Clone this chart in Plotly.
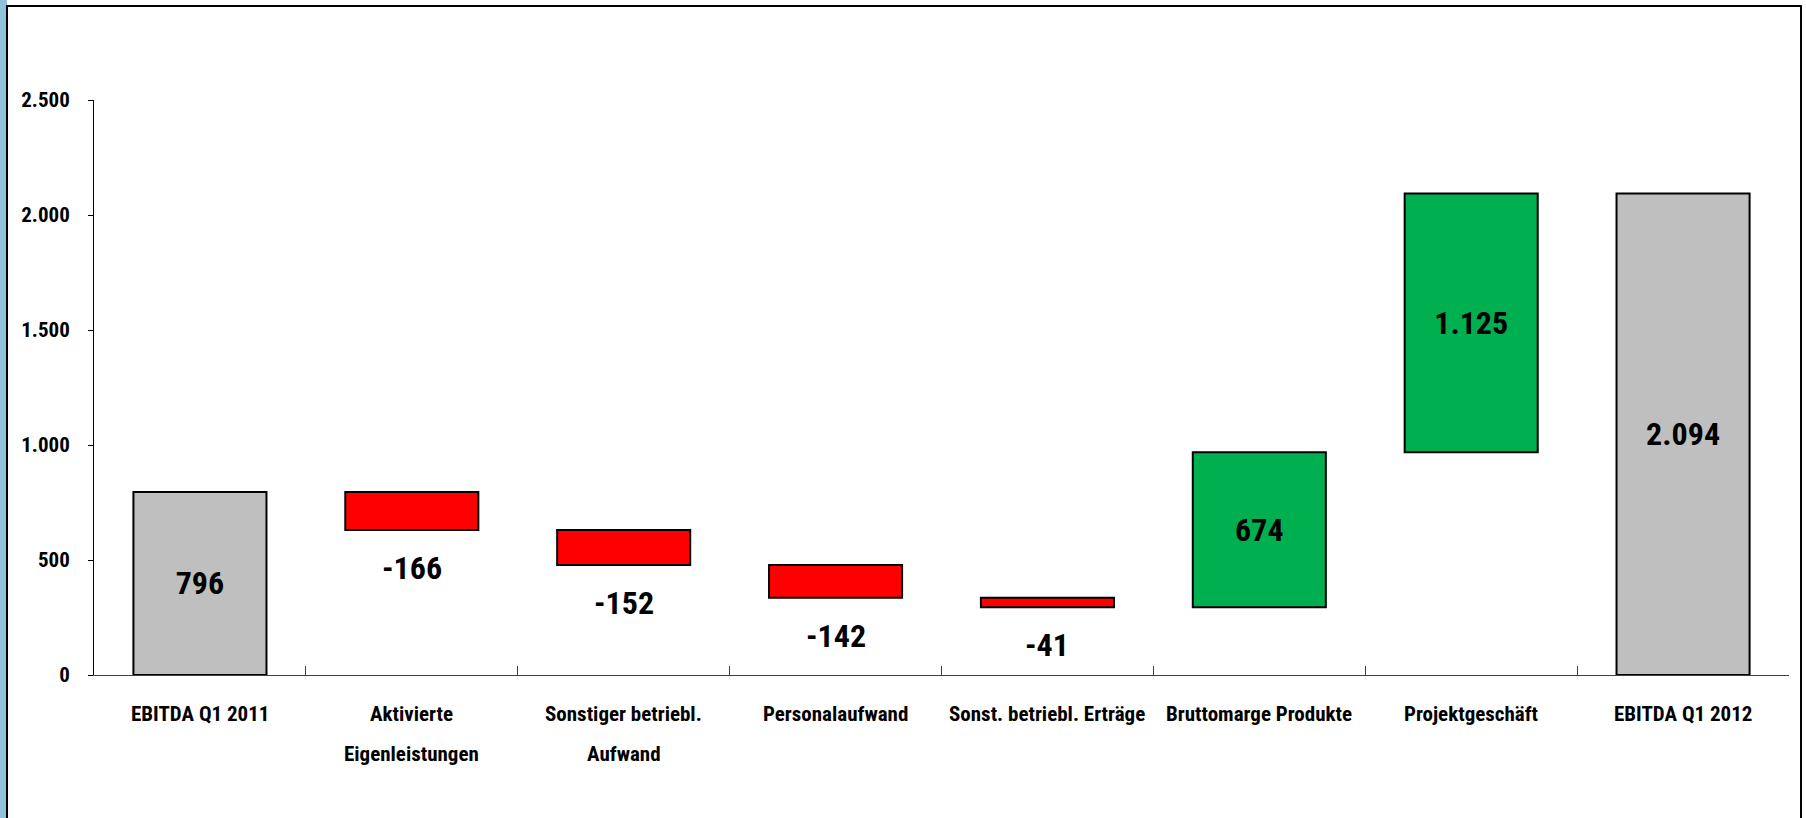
import plotly.graph_objects as go

# ---- data ----
categories = [
    "EBITDA Q1 2011",
    "Aktivierte<br>Eigenleistungen",
    "Sonstiger betriebl.<br>Aufwand",
    "Personalaufwand",
    "Sonst. betriebl. Erträge",
    "Bruttomarge Produkte",
    "Projektgeschäft",
    "EBITDA Q1 2012",
]
values = [796, -166, -152, -142, -41, 674, 1125, 2094]
measures = ["absolute", "relative", "relative", "relative", "relative", "relative", "relative", "total"]
y_ticks = [0, 500, 1000, 1500, 2000, 2500]

# ---- styles ----
FONT = "Liberation Sans Narrow, Roboto Condensed, Arial Narrow, Liberation Sans, sans-serif"
W, H = 1806, 818
L, R, T, B = 94, 17, 100, 143
PW, PH = W - L - R, H - T - B


def de(v):
    return f"{v:,}".replace(",", ".")


def px_x(px):
    return (px - L) / PW


def px_y(py):
    return (H - B - py) / PH


texts = [de(v) if (m != "relative" or v >= 0) else "" for v, m in zip(values, measures)]

fig = go.Figure(
    go.Waterfall(
        x=categories,
        y=values,
        measure=measures,
        text=texts,
        textposition="inside",
        insidetextanchor="middle",
        constraintext="none",
        textfont=dict(family=FONT, size=32, color="black", weight="bold"),
        increasing=dict(marker=dict(color="#00B050", line=dict(color="black", width=2))),
        decreasing=dict(marker=dict(color="#FF0000", line=dict(color="black", width=2))),
        totals=dict(marker=dict(color="#BFBFBF", line=dict(color="black", width=2))),
        connector=dict(visible=False),
        hoverinfo="skip",
    )
)

annotations = []
# labels below negative bars
running = 0
for c, v, m in zip(categories, values, measures):
    if m == "absolute":
        running = v
    elif m == "relative":
        running += v
        if v < 0:
            annotations.append(dict(
                x=c, y=running, xref="x", yref="y", text=de(v), showarrow=False,
                yanchor="middle", yshift=-38,
                font=dict(family=FONT, size=32, color="black", weight="bold"),
            ))

# category labels (multi-line, wider line spacing)
for c in categories:
    for i, line in enumerate(c.split("<br>")):
        annotations.append(dict(
            x=c, y=0, xref="x", yref="paper", text=line, showarrow=False,
            yanchor="middle", yshift=-39 - i * 40,
            font=dict(family=FONT, size=21, color="black", weight="bold"),
        ))

shapes = [
    # left decorative strip
    dict(type="rect", xref="paper", yref="paper", x0=px_x(0), x1=px_x(7), y0=px_y(H), y1=px_y(0),
         fillcolor="#8fc3dc", line=dict(width=0), layer="below"),
    # chart frame
    dict(type="path", xref="paper", yref="paper",
         path=f"M {px_x(7)} {px_y(H)} L {px_x(7)} {px_y(6)} L {px_x(1801)} {px_y(6)} L {px_x(1801)} {px_y(H)}",
         line=dict(color="black", width=2)),
]

fig.update_layout(
    width=W, height=H,
    margin=dict(l=L, r=R, t=T, b=B, pad=0),
    paper_bgcolor="white", plot_bgcolor="white",
    separators=",.",
    showlegend=False,
    waterfallgap=0.372,
    font=dict(family=FONT, size=21, color="black", weight="bold"),
    annotations=annotations,
    shapes=shapes,
    xaxis=dict(
        type="category", showticklabels=False, showline=True, linecolor="#404040", linewidth=1,
        ticks="inside", tickson="boundaries", ticklen=9, tickcolor="#404040", showgrid=False,
    ),
    yaxis=dict(
        range=[0, 2500], tickvals=y_ticks, ticktext=[de(v) for v in y_ticks],
        showline=True, linecolor="black", linewidth=1, ticks="outside", ticklen=5, tickcolor="black",
        ticklabelstandoff=14, showgrid=False, zeroline=False,
        tickfont=dict(family=FONT, size=21, color="black", weight="bold"),
    ),
)

fig.write_html(
    "out.html",
    config={"displayModeBar": False},
    post_script="document.body.style.margin='0px';document.body.style.overflow='hidden';",
)
